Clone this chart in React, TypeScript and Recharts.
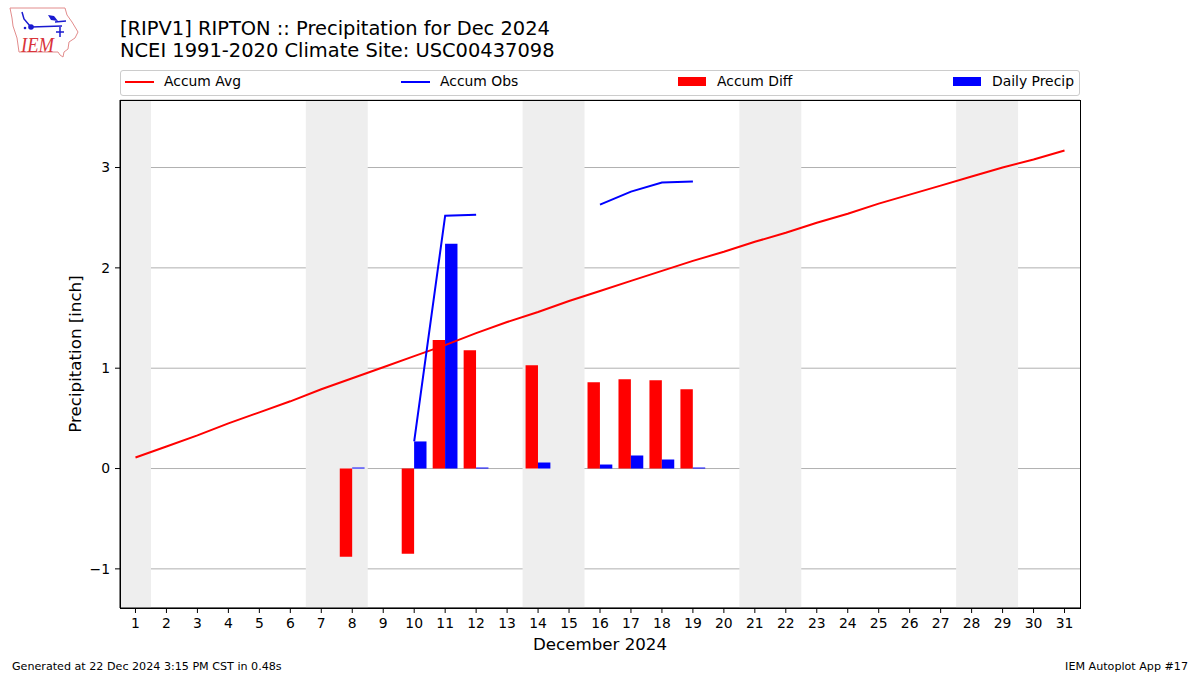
import React from 'react';
import { ComposedChart, Bar, Line, XAxis, YAxis, CartesianGrid, ReferenceArea } from 'recharts';

const days = [1, 2, 3, 4, 5, 6, 7, 8, 9, 10, 11, 12, 13, 14, 15, 16, 17, 18, 19, 20, 21, 22, 23, 24, 25, 26, 27, 28, 29, 30, 31];
const accumAvg = [0.11, 0.22, 0.33, 0.45, 0.56, 0.67, 0.79, 0.9, 1.01, 1.12, 1.23, 1.35, 1.46, 1.56, 1.67, 1.77, 1.87, 1.97, 2.07, 2.16, 2.26, 2.35, 2.45, 2.54, 2.64, 2.73, 2.82, 2.91, 3.0, 3.08, 3.17];
const accumObs = [null, null, null, null, null, null, null, null, null, 0.27, 2.52, 2.53, null, null, null, 2.63, 2.76, 2.85, 2.86, null, null, null, null, null, null, null, null, null, null, null, null];
const accumDiff = [null, null, null, null, null, null, null, -0.88, null, -0.85, 1.28, 1.18, null, 1.03, null, 0.86, 0.89, 0.88, 0.79, null, null, null, null, null, null, null, null, null, null, null, null];
const dailyPrecip = [null, null, null, null, null, null, null, 0.01, null, 0.27, 2.24, 0.01, null, 0.06, null, 0.04, 0.13, 0.09, 0.01, null, null, null, null, null, null, null, null, null, null, null, null];
const weekends = [[1, 1], [7, 8], [14, 15], [21, 22], [28, 29]];
const yTicks = [-1, 0, 1, 2, 3];

const rows = days.map((day, i) => ({
  day,
  avg: accumAvg[i],
  obs: accumObs[i],
  diff: accumDiff[i],
  daily: dailyPrecip[i],
}));

const FONT = '"DejaVu Sans", sans-serif';

const abs = (left: number, top: number): React.CSSProperties => ({
  position: 'absolute',
  left,
  top,
  whiteSpace: 'nowrap',
  lineHeight: 1,
});

const LegendLine = ({ x, color, label }: { x: number; color: string; label: string }) => (
  <>
    <div style={{ ...abs(x, 81), width: 29, height: 2, background: color }} />
    <div style={{ ...abs(x + 39, 75), fontSize: 13.9 }}>{label}</div>
  </>
);

const LegendPatch = ({ x, color, label }: { x: number; color: string; label: string }) => (
  <>
    <div style={{ ...abs(x, 77), width: 28, height: 9, background: color }} />
    <div style={{ ...abs(x + 39, 75), fontSize: 13.9 }}>{label}</div>
  </>
);

// rough copy of the IEM state logo
const Logo = () => (
  <svg style={{ position: 'absolute', left: 0, top: 0 }} width="90" height="65">
    <path
      d="M10 8 L65 8 L67 15 L72 22 L78 32 L75 38 L69 42 L68 49 L64 52 L63 57 L60 55 L58 52 L19 52 L17 38 L13 26 L12 18 Z"
      fill="none"
      stroke="#e28c8c"
      strokeWidth="1"
    />
    <path d="M22 12 L24 19 L30 26 M31 27 L62 26 M55 22 L66 21 M60 27 L60 37 M56 32 L64 32" fill="none" stroke="#1a1ad0" strokeWidth="1.5" />
    <path d="M48 15 L54 16 L58 21 L51 20 Z" fill="#1a1ad0" />
    <circle cx="31" cy="27" r="2.8" fill="#1a1ad0" />
    <circle cx="25" cy="28" r="1.3" fill="#1a1ad0" />
    <text x="21" y="52" fontFamily="'Liberation Serif', serif" fontStyle="italic" fontSize="20" textLength={33} lengthAdjust="spacingAndGlyphs" fill="#d9343a">IEM</text>
  </svg>
);

export default function App() {
  return (
    <div style={{ position: 'absolute', left: 0, top: 0, width: 1200, height: 675, background: '#fff', fontFamily: FONT, color: '#000', overflow: 'hidden' }}>
      <Logo />
      <div style={{ ...abs(120, 19), fontSize: 19.44 }}>[RIPV1] RIPTON :: Precipitation for Dec 2024</div>
      <div style={{ ...abs(120, 41), fontSize: 19.44 }}>NCEI 1991-2020 Climate Site: USC00437098</div>

      <div style={{ ...abs(120, 70), width: 958, height: 24, border: '1px solid #ccc', borderRadius: 3 }} />
      <LegendLine x={125} color="#ff0000" label="Accum Avg" />
      <LegendLine x={401} color="#0000ff" label="Accum Obs" />
      <LegendPatch x={678} color="#ff0000" label="Accum Diff" />
      <LegendPatch x={953} color="#0000ff" label="Daily Precip" />

      <div style={{ position: 'absolute', left: 0, top: 0 }}>
        <ComposedChart
          width={1200}
          height={675}
          data={rows}
          margin={{ top: 100, right: 120, bottom: 27, left: 60 }}
          barSize={12.4}
          barGap={0}
        >
          {weekends.map(([from, to]) => (
            <ReferenceArea key={from} x1={from} x2={to} fill="#eeeeee" fillOpacity={1} stroke="none" />
          ))}
          <CartesianGrid horizontal vertical={false} stroke="#b0b0b0" strokeWidth={1} />
          <XAxis
            dataKey="day"
            interval={0}
            height={40}
            tick={{ fill: '#000', fontSize: 13.9, fontFamily: FONT }}
            tickSize={5}
            tickMargin={5}
            tickLine={{ stroke: '#000' }}
            axisLine={{ stroke: '#000' }}
            label={{ value: 'December 2024', position: 'insideBottom', offset: -2, fill: '#000', fontSize: 16.67, fontFamily: FONT }}
          />
          <YAxis
            type="number"
            domain={[-1.39, 3.673]}
            ticks={yTicks}
            width={60}
            allowDataOverflow
            tickFormatter={(v: number) => String(v).replace('-', '\u2212')}
            tick={{ fill: '#000', fontSize: 13.9, fontFamily: FONT }}
            tickSize={5}
            tickMargin={5}
            tickLine={{ stroke: '#000' }}
            axisLine={{ stroke: '#000' }}
            label={{ value: 'Precipitation [inch]', angle: -90, position: 'insideLeft', offset: 15, fill: '#000', fontSize: 16.67, fontFamily: FONT, style: { textAnchor: 'middle' } }}
          />
          <Bar dataKey="diff" fill="#ff0000" isAnimationActive={false} />
          <Bar dataKey="daily" fill="#0000ff" isAnimationActive={false} />
          <Line dataKey="avg" stroke="#ff0000" strokeWidth={2} dot={false} activeDot={false} isAnimationActive={false} />
          <Line dataKey="obs" stroke="#0000ff" strokeWidth={2} dot={false} activeDot={false} connectNulls={false} isAnimationActive={false} />
        </ComposedChart>
      </div>

      <div style={{ ...abs(120, 100), width: 959, height: 507, border: '1px solid #000', pointerEvents: 'none' }} />

      <div style={{ ...abs(12, 661), fontSize: 11.13 }}>Generated at 22 Dec 2024 3:15 PM CST in 0.48s</div>
      <div style={{ position: 'absolute', right: 12, top: 661, fontSize: 11.13, lineHeight: 1, whiteSpace: 'nowrap' }}>IEM Autoplot App #17</div>
    </div>
  );
}
